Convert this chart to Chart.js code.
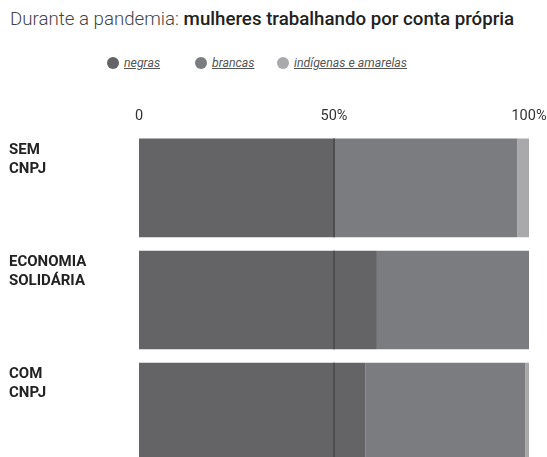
<!DOCTYPE html>
<html>
<head>
<meta charset="utf-8">
<script src="https://cdn.jsdelivr.net/npm/chart.js@4/dist/chart.umd.min.js"></script>
<style>
  html, body { margin: 0; padding: 0; background: #fff; overflow: hidden; }
  body { width: 547px; height: 457px; position: relative; font-family: Roboto, sans-serif; }
  #title { position: absolute; left: 10px; top: 8px; font-size: 18.7px; white-space: nowrap; color: #222; }
  #title .light { font-weight: 300; color: #444; }
  #title .bold { font-weight: 500; }
  #legend { position: absolute; top: 54px; left: 0; width: 547px; height: 18px; }
  .item { position: absolute; top: 0; display: flex; align-items: center; height: 18px; }
  .dot { width: 12px; height: 12px; border-radius: 50%; margin-right: 5px; }
  .lbl { font-size: 12.3px; font-style: italic; text-decoration: underline; color: #555; }
  #barChart { position: absolute; left: 0; top: 0; }
</style>
</head>
<body>
<div id="title"><span class="light">Durante a pandemia:</span> <span class="bold">mulheres trabalhando por conta própria</span></div>
<div id="legend"></div>
<canvas id="barChart" width="547" height="468"></canvas>
<script>
const categories = [["SEM", "CNPJ"], ["ECONOMIA", "SOLIDÁRIA"], ["COM", "CNPJ"]];
const seriesNames = ["negras", "brancas", "indígenas e amarelas"];
const negras = [50, 61, 58];
const brancas = [47, 39, 41];
const indigenas = [3, 0, 1];
const tickValues = [0, 50, 100];
const colors = ["#646466", "#7b7c7f", "#a9a9ac"];

// legend in html (italic + underlined labels)
const legendX = [107, 195, 277];
const legend = document.getElementById("legend");
seriesNames.forEach((name, i) => {
  const d = document.createElement("div");
  d.className = "item";
  d.style.left = legendX[i] + "px";
  d.innerHTML = '<span class="dot" style="background:' + colors[i] + '"></span><span class="lbl">' + name + '</span>';
  legend.appendChild(d);
});

// dark marker at 50% drawn over each bar
const midLine = {
  id: "midLine",
  afterDatasetsDraw(chart) {
    const ctx = chart.ctx;
    const x = chart.scales.x.getPixelForValue(50);
    const meta = chart.getDatasetMeta(0);
    ctx.save();
    ctx.strokeStyle = "#4e4e51";
    ctx.lineWidth = 2;
    meta.data.forEach((bar) => {
      const h = bar.height;
      ctx.beginPath();
      ctx.moveTo(x, bar.y - h / 2);
      ctx.lineTo(x, bar.y + h / 2);
      ctx.stroke();
    });
    ctx.restore();
  }
};

const ctx = document.getElementById("barChart");
new Chart(ctx, {
  type: "bar",
  data: {
    labels: categories,
    datasets: [
      { label: seriesNames[0], data: negras, backgroundColor: colors[0] },
      { label: seriesNames[1], data: brancas, backgroundColor: colors[1] },
      { label: seriesNames[2], data: indigenas, backgroundColor: colors[2] },
    ],
  },
  options: {
    indexAxis: "y",
    responsive: false,
    animation: false,
    datasets: { bar: { barPercentage: 1, categoryPercentage: 0.88, borderWidth: 0 } },
    layout: { padding: { top: 101.5, left: 9, right: 18, bottom: 0 } },
    plugins: { legend: { display: false }, tooltip: { enabled: false } },
    scales: {
      x: {
        position: "top",
        stacked: true,
        min: 0,
        max: 100,
        afterBuildTicks: (axis) => { axis.ticks = tickValues.map((v) => ({ value: v })); },
        afterFit: (axis) => { axis.paddingLeft = 0; axis.paddingRight = 0; },
        grid: { display: false, drawTicks: false },
        border: { display: false },
        ticks: {
          padding: 6.5,
          color: "#333",
          font: { family: "Roboto", size: 14.5 },
          callback: (v) => (v === 0 ? "0" : v + "%"),
        },
      },
      y: {
        stacked: true,
        grid: { display: false, drawTicks: false },
        border: { display: false },
        afterFit: (axis) => { axis.width = 130; axis.paddingTop = 0; axis.paddingBottom = 0; },
        ticks: {
          crossAlign: "far",
          labelOffset: -28,
          color: "#222",
          font: { family: "Roboto", size: 15, weight: "bold", lineHeight: 1.3 },
        },
      },
    },
  },
  plugins: [midLine],
});
</script>
</body>
</html>
